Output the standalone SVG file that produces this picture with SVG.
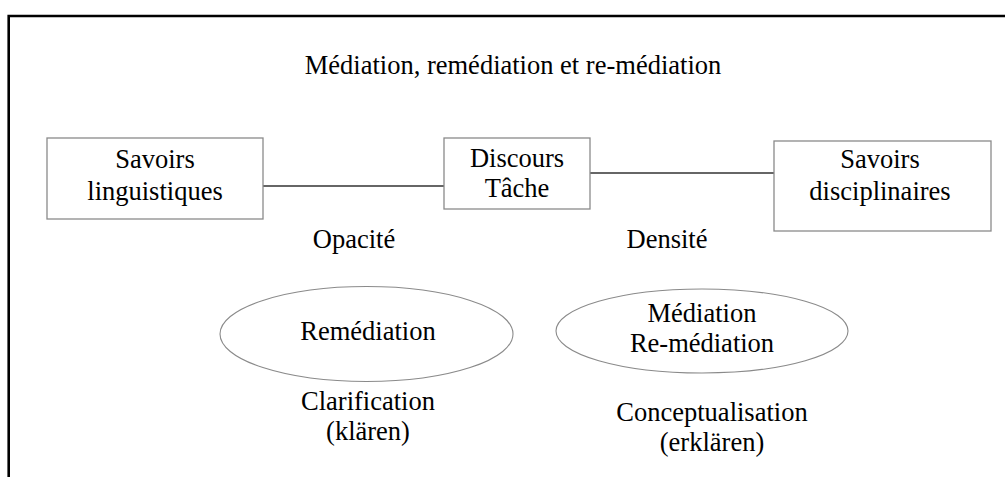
<svg xmlns="http://www.w3.org/2000/svg" width="1005" height="477" viewBox="0 0 1005 477">
<style>
text{font-family:"Liberation Serif","Times New Roman",serif;font-size:26.5px;fill:#000;text-anchor:middle}
.box{fill:#fff;stroke:#8a8a8a;stroke-width:1.3}
.ell{fill:#fff;stroke:#8a8a8a;stroke-width:1.1}
.conn{stroke:#333;stroke-width:1.4;fill:none}
.frame{stroke:#000;stroke-width:2.6;fill:none}
</style>
<rect width="1005" height="477" fill="#fff"/>
<path class="frame" d="M8.7,477 V16 H1005"/>
<text x="513" y="74">Médiation, remédiation et re-médiation</text>
<g id="connectors">
<line class="conn" x1="263" y1="186" x2="444" y2="186"/>
<line class="conn" x1="590" y1="173" x2="774" y2="173"/>
</g>
<g id="savoirs-linguistiques">
<rect class="box" x="47" y="138" width="216" height="81"/>
<text x="155" y="168">Savoirs</text>
<text x="155" y="200">linguistiques</text>
</g>
<g id="discours-tache">
<rect class="box" x="444" y="138" width="146" height="71"/>
<text x="517" y="167">Discours</text>
<text x="517" y="197">Tâche</text>
</g>
<g id="savoirs-disciplinaires">
<rect class="box" x="774" y="141" width="217" height="90"/>
<text x="880" y="168">Savoirs</text>
<text x="880" y="200">disciplinaires</text>
</g>
<g id="opacite"><text x="354" y="248">Opacité</text></g>
<g id="densite"><text x="667" y="248">Densité</text></g>
<g id="remediation">
<ellipse class="ell" cx="366.5" cy="334" rx="146.5" ry="47.5"/>
<text x="368" y="340">Remédiation</text>
</g>
<g id="mediation">
<ellipse class="ell" cx="702" cy="331" rx="146" ry="42"/>
<text x="702" y="322">Médiation</text>
<text x="702" y="352">Re-médiation</text>
</g>
<g id="clarification">
<text x="368" y="410">Clarification</text>
<text x="368" y="440">(klären)</text>
</g>
<g id="conceptualisation">
<text x="712" y="421">Conceptualisation</text>
<text x="712" y="451">(erklären)</text>
</g>
</svg>
